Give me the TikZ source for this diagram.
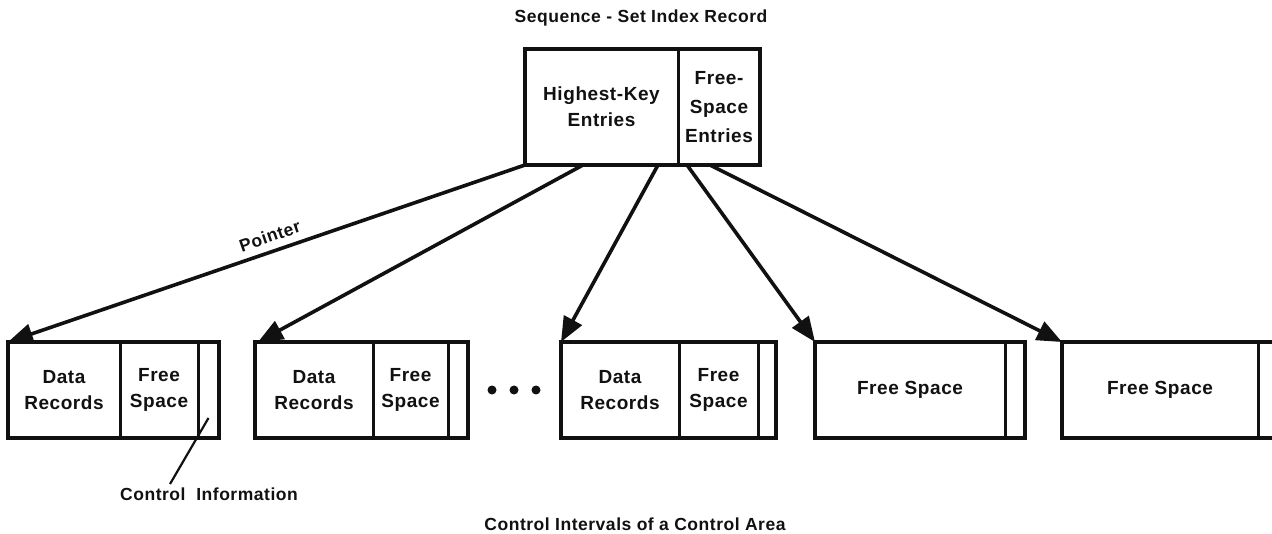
\documentclass[tikz,border=0pt]{standalone}
\usepackage{fontspec}
\setmainfont{Liberation Sans}[LetterSpace=3]
\usetikzlibrary{arrows.meta, calc, positioning}
\definecolor{Paper}{HTML}{FFFFFF}
\definecolor{Ink}{HTML}{111111}

\begin{document}
\begin{tikzpicture}[
  x=1pt, y=-1pt,
  font=\bfseries\fontsize{19}{26}\selectfont,
  cell/.style={
    draw=Ink,
    line width=3pt,
    minimum height=96pt,
    inner sep=0pt,
    outer sep=0pt,
    align=center,
    text=Ink
  },
  topcell/.style={
    cell,
    minimum height=116pt
  },
  frame/.style={
    draw=Ink,
    line width=4pt
  },
  link/.style={
    -{Triangle[length=25pt,width=20pt]},
    line width=3.6pt,
    draw=Ink
  },
  caption/.style={
    text=Ink,
    font=\bfseries\fontsize{17.5}{22}\selectfont
  }
]

\fill[Paper] (0,0) rectangle (1272,534);
\useasboundingbox (0,0) rectangle (1272,534);

% sequence-set index record
\node[caption] (title) at (641,18) {Sequence - Set Index Record};
\node[topcell, minimum width=153pt, anchor=north west] (hk) at (525,49)
  {Highest-Key\\Entries};
\node[topcell, minimum width=82pt, right=0pt of hk,
  font=\bfseries\fontsize{19}{29}\selectfont] (fse) {Free-\\Space\\Entries};
\draw[frame] (hk.north west) rectangle (fse.south east);

% control intervals
\node[cell, minimum width=112pt, anchor=north west] (dr1) at (8,342) {Data\\Records};
\node[cell, minimum width=78pt, right=0pt of dr1] (fr1) {Free\\Space};
\node[cell, minimum width=21pt, right=0pt of fr1] (ci1) {};
\draw[frame] (dr1.north west) rectangle (ci1.south east);

\node[cell, minimum width=118pt, anchor=north west] (dr2) at (255,342) {Data\\Records};
\node[cell, minimum width=75pt, right=0pt of dr2] (fr2) {Free\\Space};
\node[cell, minimum width=20pt, right=0pt of fr2] (ci2) {};
\draw[frame] (dr2.north west) rectangle (ci2.south east);

\foreach \x in {492,514,536}
  \fill[Ink] (\x,390) circle (4.5pt);

\node[cell, minimum width=118pt, anchor=north west] (dr3) at (561,342) {Data\\Records};
\node[cell, minimum width=79pt, right=0pt of dr3] (fr3) {Free\\Space};
\node[cell, minimum width=18pt, right=0pt of fr3] (ci3) {};
\draw[frame] (dr3.north west) rectangle (ci3.south east);

\node[cell, minimum width=190pt, anchor=north west] (sp4) at (815,342) {Free Space};
\node[cell, minimum width=20pt, right=0pt of sp4] (ci4) {};
\draw[frame] (sp4.north west) rectangle (ci4.south east);

\node[cell, minimum width=196pt, anchor=north west] (sp5) at (1062,342) {Free Space};
\node[cell, minimum width=20pt, right=0pt of sp5] (ci5) {};
\draw[frame] (sp5.north west) rectangle (ci5.south east);

% pointers
\draw[link] (hk.south west) -- (dr1.north west)
  node[pos=0.484, sloped, above=4pt, caption] {Pointer};
\draw[link] ([xshift=58pt]hk.south west) -- ([xshift=3pt]dr2.north west);
\draw[link] ([xshift=-20pt]hk.south east) -- (dr3.north west);
\draw[link] ([xshift=9pt]fse.south west) -- (sp4.north west);
\draw[link] ([xshift=32pt]fse.south west) -- (sp5.north west);

% notes
\node[caption] (cinfo) at (209,494) {Control\ \ Information};
\draw[Ink, line width=2.2pt] ([yshift=-28pt]ci1.center) -- ([xshift=-39pt]cinfo.north);
\node[caption] (area) at (635,524) {Control Intervals of a Control Area};

\end{tikzpicture}
\end{document}
